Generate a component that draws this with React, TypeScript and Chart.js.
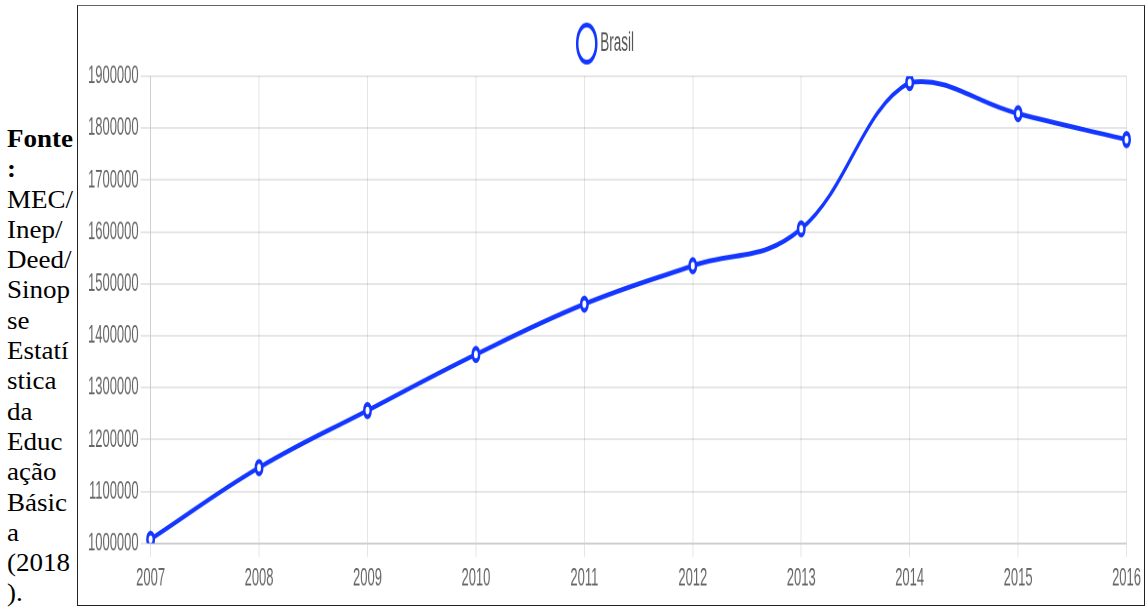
import React, { useEffect, useRef } from 'react';
import { Chart, registerables } from 'chart.js';

Chart.register(...registerables);

// ---- data ----
const years: string[] = ['2007', '2008', '2009', '2010', '2011', '2012', '2013', '2014', '2015', '2016'];
const brasil: number[] = [1008000, 1146000, 1256000, 1364000, 1461000, 1535000, 1606000, 1888000, 1828000, 1778000];
const seriesLabel = 'Brasil';
const yMin = 1000000;
const yMax = 1900000;
const yStep = 100000;

const sourceLines: { text: string; bold: boolean }[] = [
  { text: 'Fonte', bold: true },
  { text: ':', bold: true },
  { text: 'MEC/', bold: false },
  { text: 'Inep/', bold: false },
  { text: 'Deed/', bold: false },
  { text: 'Sinop', bold: false },
  { text: 'se', bold: false },
  { text: 'Estatí', bold: false },
  { text: 'stica', bold: false },
  { text: 'da', bold: false },
  { text: 'Educ', bold: false },
  { text: 'ação', bold: false },
  { text: 'Básic', bold: false },
  { text: 'a', bold: false },
  { text: '(2018', bold: false },
  { text: ').', bold: false },
];

const BLUE = '#1437ff';
const FONT = "'Liberation Sans', Arial, Helvetica, sans-serif";
const INNER_W = 1066;
const INNER_H = 307;
const SCREEN_H = 599;

export default function App() {
  const canvasRef = useRef<HTMLCanvasElement | null>(null);

  useEffect(() => {
    const canvas = canvasRef.current;
    if (!canvas) return;
    const chart = new Chart(canvas, {
      type: 'line',
      data: {
        labels: years,
        datasets: [
          {
            label: seriesLabel,
            data: brasil,
            borderColor: BLUE,
            backgroundColor: '#ffffff',
            borderWidth: 2.5,
            tension: 0.4,
            fill: false,
            pointRadius: 3.2,
            pointBorderWidth: 2.5,
            pointBackgroundColor: '#ffffff',
            pointBorderColor: BLUE,
            pointStyle: 'circle',
          },
        ],
      },
      options: {
        responsive: false,
        animation: false,
        devicePixelRatio: 2,
        layout: { padding: { top: 2.5, left: 8, right: 16, bottom: 3 } },
        plugins: {
          legend: {
            display: true,
            position: 'top',
            labels: {
              usePointStyle: true,
              pointStyle: 'circle',
              color: '#555',
              padding: 10,
              font: { family: FONT, size: 13.5 },
            },
          },
          tooltip: { enabled: false },
        },
        scales: {
          x: {
            grid: { color: 'rgba(0,0,0,0.1)', tickLength: 7 },
            border: { color: 'rgba(0,0,0,0.1)' },
            ticks: { color: '#666', padding: 3, maxRotation: 0, font: { family: FONT, size: 13 } },
          },
          y: {
            min: yMin,
            max: yMax,
            grid: { color: 'rgba(0,0,0,0.1)', tickLength: 10 },
            border: { color: 'rgba(0,0,0,0.1)' },
            ticks: {
              stepSize: yStep,
              color: '#666',
              padding: 2,
              font: { family: FONT, size: 13 },
              callback: (v: any) => String(v),
            },
          },
        },
      },
    });
    return () => chart.destroy();
  }, []);

  return (
    <div>
      <div
        style={{
          position: 'absolute',
          left: 7,
          top: 124,
          fontFamily: "'Liberation Serif', 'Times New Roman', Times, serif",
          fontSize: 25,
          color: '#000',
          transform: 'scaleX(1.08)',
          transformOrigin: 'left top',
          whiteSpace: 'nowrap',
        }}
      >
        {sourceLines.map((l, i) => (
          <div key={i} style={{ height: 30.3, lineHeight: '30.3px', fontWeight: l.bold ? 'bold' : 'normal' }}>
            {l.text}
          </div>
        ))}
      </div>
      <div
        style={{
          position: 'absolute',
          left: 77,
          top: 5,
          width: 1068,
          height: 601,
          boxSizing: 'border-box',
          border: '1px solid #222',
          borderTopColor: '#666',
          background: '#fff',
          overflow: 'hidden',
        }}
      >
        <div
          style={{
            width: INNER_W,
            height: INNER_H,
            transform: `scale(1, ${SCREEN_H / INNER_H})`,
            transformOrigin: 'left top',
          }}
        >
          <canvas
            ref={canvasRef}
            width={INNER_W}
            height={INNER_H}
            style={{ width: INNER_W, height: INNER_H, display: 'block' }}
          />
        </div>
      </div>
    </div>
  );
}
